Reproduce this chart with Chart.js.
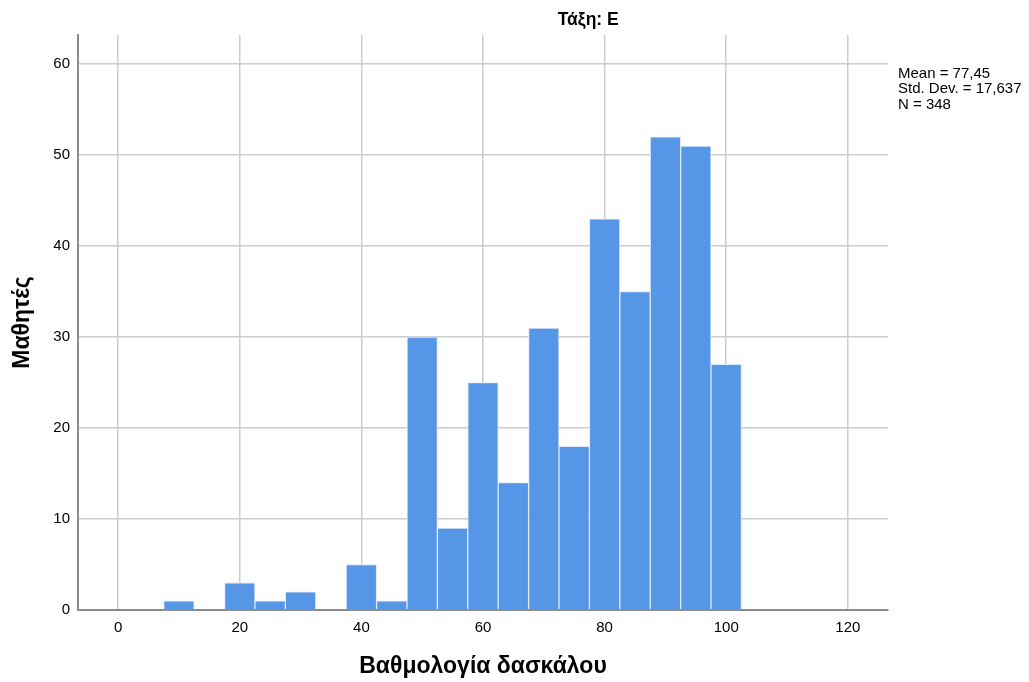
<!DOCTYPE html>
<html>
<head>
<meta charset="utf-8">
<script src="https://cdn.jsdelivr.net/npm/chart.js@4/dist/chart.umd.min.js"></script>
<style>
  body { margin: 0; background: #fff; }
</style>
</head>
<body>
<canvas id="myChart" width="1029" height="682"></canvas>
<script>
// histogram bins (centres, width 5) and counts
const binCentres = [10, 15, 20, 25, 30, 35, 40, 45, 50, 55, 60, 65, 70, 75, 80, 85, 90, 95, 100];
const counts = [1, 0, 3, 1, 2, 0, 5, 1, 30, 9, 25, 14, 31, 18, 43, 35, 52, 51, 27];
const xTicks = [0, 20, 40, 60, 80, 100, 120];
const yTicks = [0, 10, 20, 30, 40, 50, 60];
const panelTitle = 'Τάξη: E';
const statLines = ['Mean = 77,45', 'Std. Dev. = 17,637', 'N = 348'];
const xTitle = 'Βαθμολογία δασκάλου';
const yTitle = 'Μαθητές';

const FONT = '"Liberation Sans", Arial, sans-serif';

const histData = binCentres.map((c, i) => ({x: c, y: counts[i]}));

const extras = {
    id: 'extras',
    afterDraw(chart) {
        const ctx = chart.ctx;
        const area = chart.chartArea;
        ctx.save();
        ctx.fillStyle = '#000';
        ctx.font = 'bold 17.5px ' + FONT;
        ctx.textAlign = 'center';
        ctx.textBaseline = 'alphabetic';
        ctx.fillText(panelTitle, chart.scales.x.getPixelForValue(77.3), 25);

        ctx.font = '15px ' + FONT;
        ctx.textAlign = 'left';
        statLines.forEach((line, i) => {
            ctx.fillText(line, area.right + 10, 78 + i * 15.4);
        });
        ctx.restore();
    }
};

const myChartRef = document.getElementById('myChart').getContext('2d');
new Chart(myChartRef, {
    type: 'bar',
    data: {
        datasets: [
            {
                label: 'Μαθητές',
                data: histData,
                backgroundColor: 'rgb(85,150,230)',
                borderColor: 'rgb(220,234,250)',
                borderWidth: 1,
                barPercentage: 1,
                categoryPercentage: 1
            }
        ]
    },
    options: {
        responsive: false,
        animation: false,
        layout: {padding: {left: 0, right: 141, top: 35, bottom: 0}},
        plugins: {
            legend: {display: false},
            tooltip: {enabled: false}
        },
        scales: {
            x: {
                type: 'linear',
                min: -6.6,
                max: 126.6,
                offset: false,
                afterFit: s => { s.height = 72; },
                afterBuildTicks: s => { s.ticks = xTicks.map(v => ({value: v})); },
                grid: {offset: false, color: '#cccccc', lineWidth: 1.5, drawTicks: false},
                border: {color: '#8c8c8c', width: 2},
                ticks: {color: '#000', font: {family: FONT, size: 15}, padding: 9, autoSkip: false},
                title: {display: true, text: xTitle, color: '#000',
                        font: {family: FONT, size: 23, weight: 'bold'}, padding: {top: 0, bottom: 2}}
            },
            y: {
                min: 0,
                max: 63.2,
                afterFit: s => { s.width = 78; },
                afterBuildTicks: s => { s.ticks = yTicks.map(v => ({value: v})); },
                grid: {color: '#cccccc', lineWidth: 1.5, drawTicks: false},
                border: {color: '#8c8c8c', width: 2},
                ticks: {color: '#000', font: {family: FONT, size: 15}, padding: 8},
                title: {display: true, text: yTitle, color: '#000',
                        font: {family: FONT, size: 23, weight: 'bold'}, padding: {top: 9, bottom: 0}}
            }
        }
    },
    plugins: [extras]
});
</script>
</body>
</html>
